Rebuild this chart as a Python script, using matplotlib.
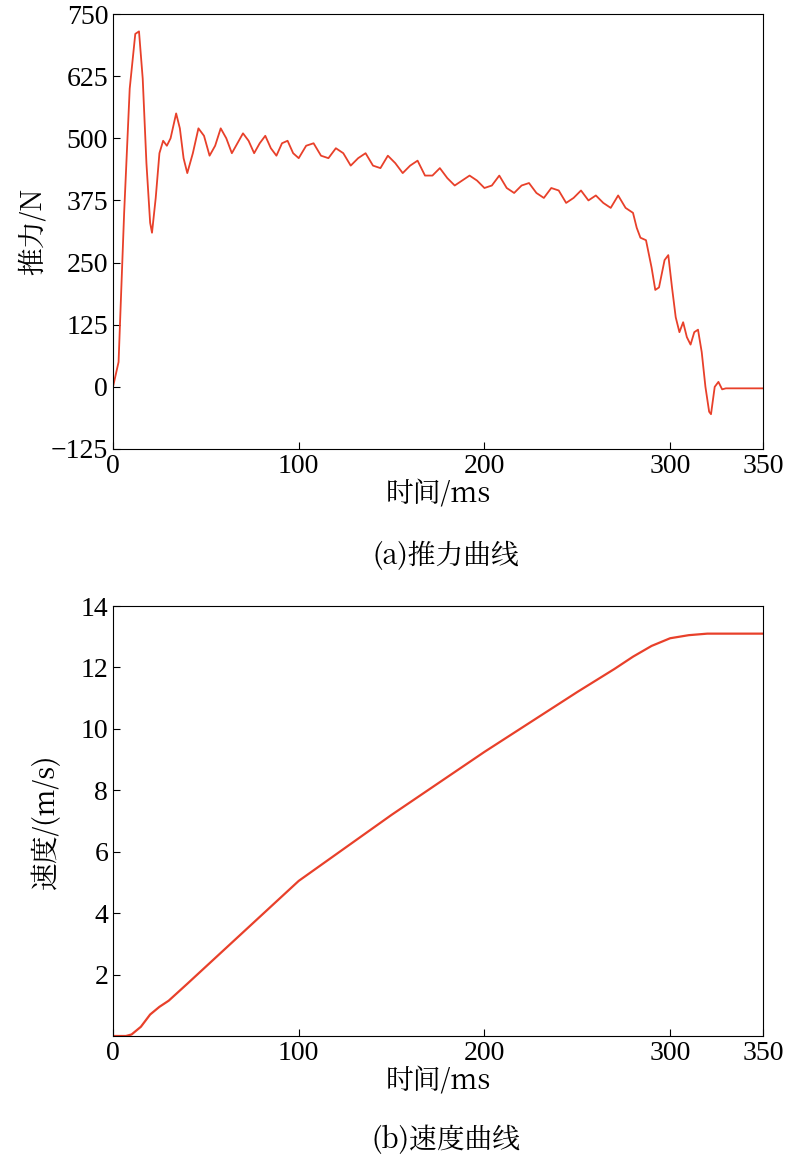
import matplotlib
matplotlib.use('Agg')
import matplotlib.pyplot as plt
from matplotlib import font_manager

# 推力曲线
t_thrust = [0, 3, 6, 9, 12, 14, 16, 18, 20, 21, 23, 25, 27, 29, 31, 34, 36, 38, 40, 43, 46, 49, 52, 55, 58,
            61, 64, 67, 70, 73, 76, 79, 82, 85, 88, 91, 94, 97, 100, 104, 108, 112, 116, 120, 124, 128,
            132, 136, 140, 144, 148, 152, 156, 160, 164, 168, 172, 176, 180, 184, 188, 192, 196, 200,
            204, 208, 212, 216, 220, 224, 228, 232, 236, 240, 244, 248, 252, 256, 260, 264, 268, 272,
            276, 280, 282, 284, 287, 290, 292, 294, 297, 299, 301, 303, 305, 307, 309, 311, 313, 315,
            317, 319, 321, 322, 324, 326, 328, 330, 350]
thrust = [0, 50, 350, 600, 710, 715, 620, 450, 330, 310, 380, 470, 495, 485, 500, 550, 520, 460, 430, 470,
          520, 505, 465, 485, 520, 500, 470, 490, 510, 495, 470, 490, 505, 480, 465, 490, 495, 470, 460,
          485, 490, 465, 460, 480, 470, 445, 460, 470, 445, 440, 465, 450, 430, 445, 455, 425, 425, 440,
          420, 405, 415, 425, 415, 400, 405, 425, 400, 390, 405, 410, 390, 380, 400, 395, 370, 380, 395,
          375, 385, 370, 360, 385, 360, 350, 320, 300, 295, 240, 195, 200, 255, 265, 200, 140, 110, 130,
          100, 85, 110, 115, 70, 0, -50, -55, 0, 10, -5, -3, -3]

# 速度曲线
t_speed = [0, 7, 10, 15, 20, 25, 30, 40, 100, 150, 200, 250, 270, 280, 290, 300, 310, 320, 350]
speed = [0, 0, 0.05, 0.3, 0.7, 0.95, 1.15, 1.7, 5.05, 7.2, 9.25, 11.2, 11.95, 12.35, 12.7, 12.95, 13.05, 13.1, 13.1]

red = '#e8402a'
fs = 20

# 找一个带中文字形的字体文件
cjk_path = None
for f in font_manager.fontManager.ttflist:
    if 'CJK' in f.name and ('SC' in f.name or cjk_path is None):
        cjk_path = f.fname
        if 'SC' in f.name:
            break
cjk = font_manager.FontProperties(fname=cjk_path, size=fs) if cjk_path else font_manager.FontProperties(size=fs)
plt.rcParams['font.family'] = 'Liberation Serif'

fig = plt.figure(figsize=(7.91, 11.67), dpi=100)
ax1 = fig.add_axes([113 / 791, 1 - 449 / 1167, 650 / 791, 435 / 1167])
ax2 = fig.add_axes([113 / 791, 1 - 1036 / 1167, 650 / 791, 430 / 1167])

ax1.plot(t_thrust, thrust, color=red, lw=1.3)
ax1.set_xlim(0, 350)
ax1.set_ylim(-125, 750)
ax1.set_xticks([0, 100, 200, 300, 350])
ax1.set_yticks([-125, 0, 125, 250, 375, 500, 625, 750])
ax1.set_yticklabels(['\u2212125', '0', '125', '250', '375', '500', '625', '750'])
ax1.set_ylabel('推力/N', fontproperties=cjk, labelpad=2)
ax1.set_xlabel('时间/ms', fontproperties=cjk, labelpad=0)
fig.text(0.5 + 50 / 791, 1 - 556 / 1167, '(a)推力曲线', fontproperties=cjk, ha='center', va='center')

ax2.plot(t_speed, speed, color=red, lw=1.6)
ax2.set_xlim(0, 350)
ax2.set_ylim(0, 14)
ax2.set_xticks([0, 100, 200, 300, 350])
ax2.set_yticks([2, 4, 6, 8, 10, 12, 14])
ax2.set_ylabel('速度/(m/s)', fontproperties=cjk, labelpad=14)
ax2.set_xlabel('时间/ms', fontproperties=cjk, labelpad=0)
fig.text(0.5 + 50 / 791, 1 - 1140 / 1167, '(b)速度曲线', fontproperties=cjk, ha='center', va='center')

for ax in (ax1, ax2):
    ax.tick_params(direction='in', labelsize=fs, length=5)

plt.savefig('out.png')
plt.close()
